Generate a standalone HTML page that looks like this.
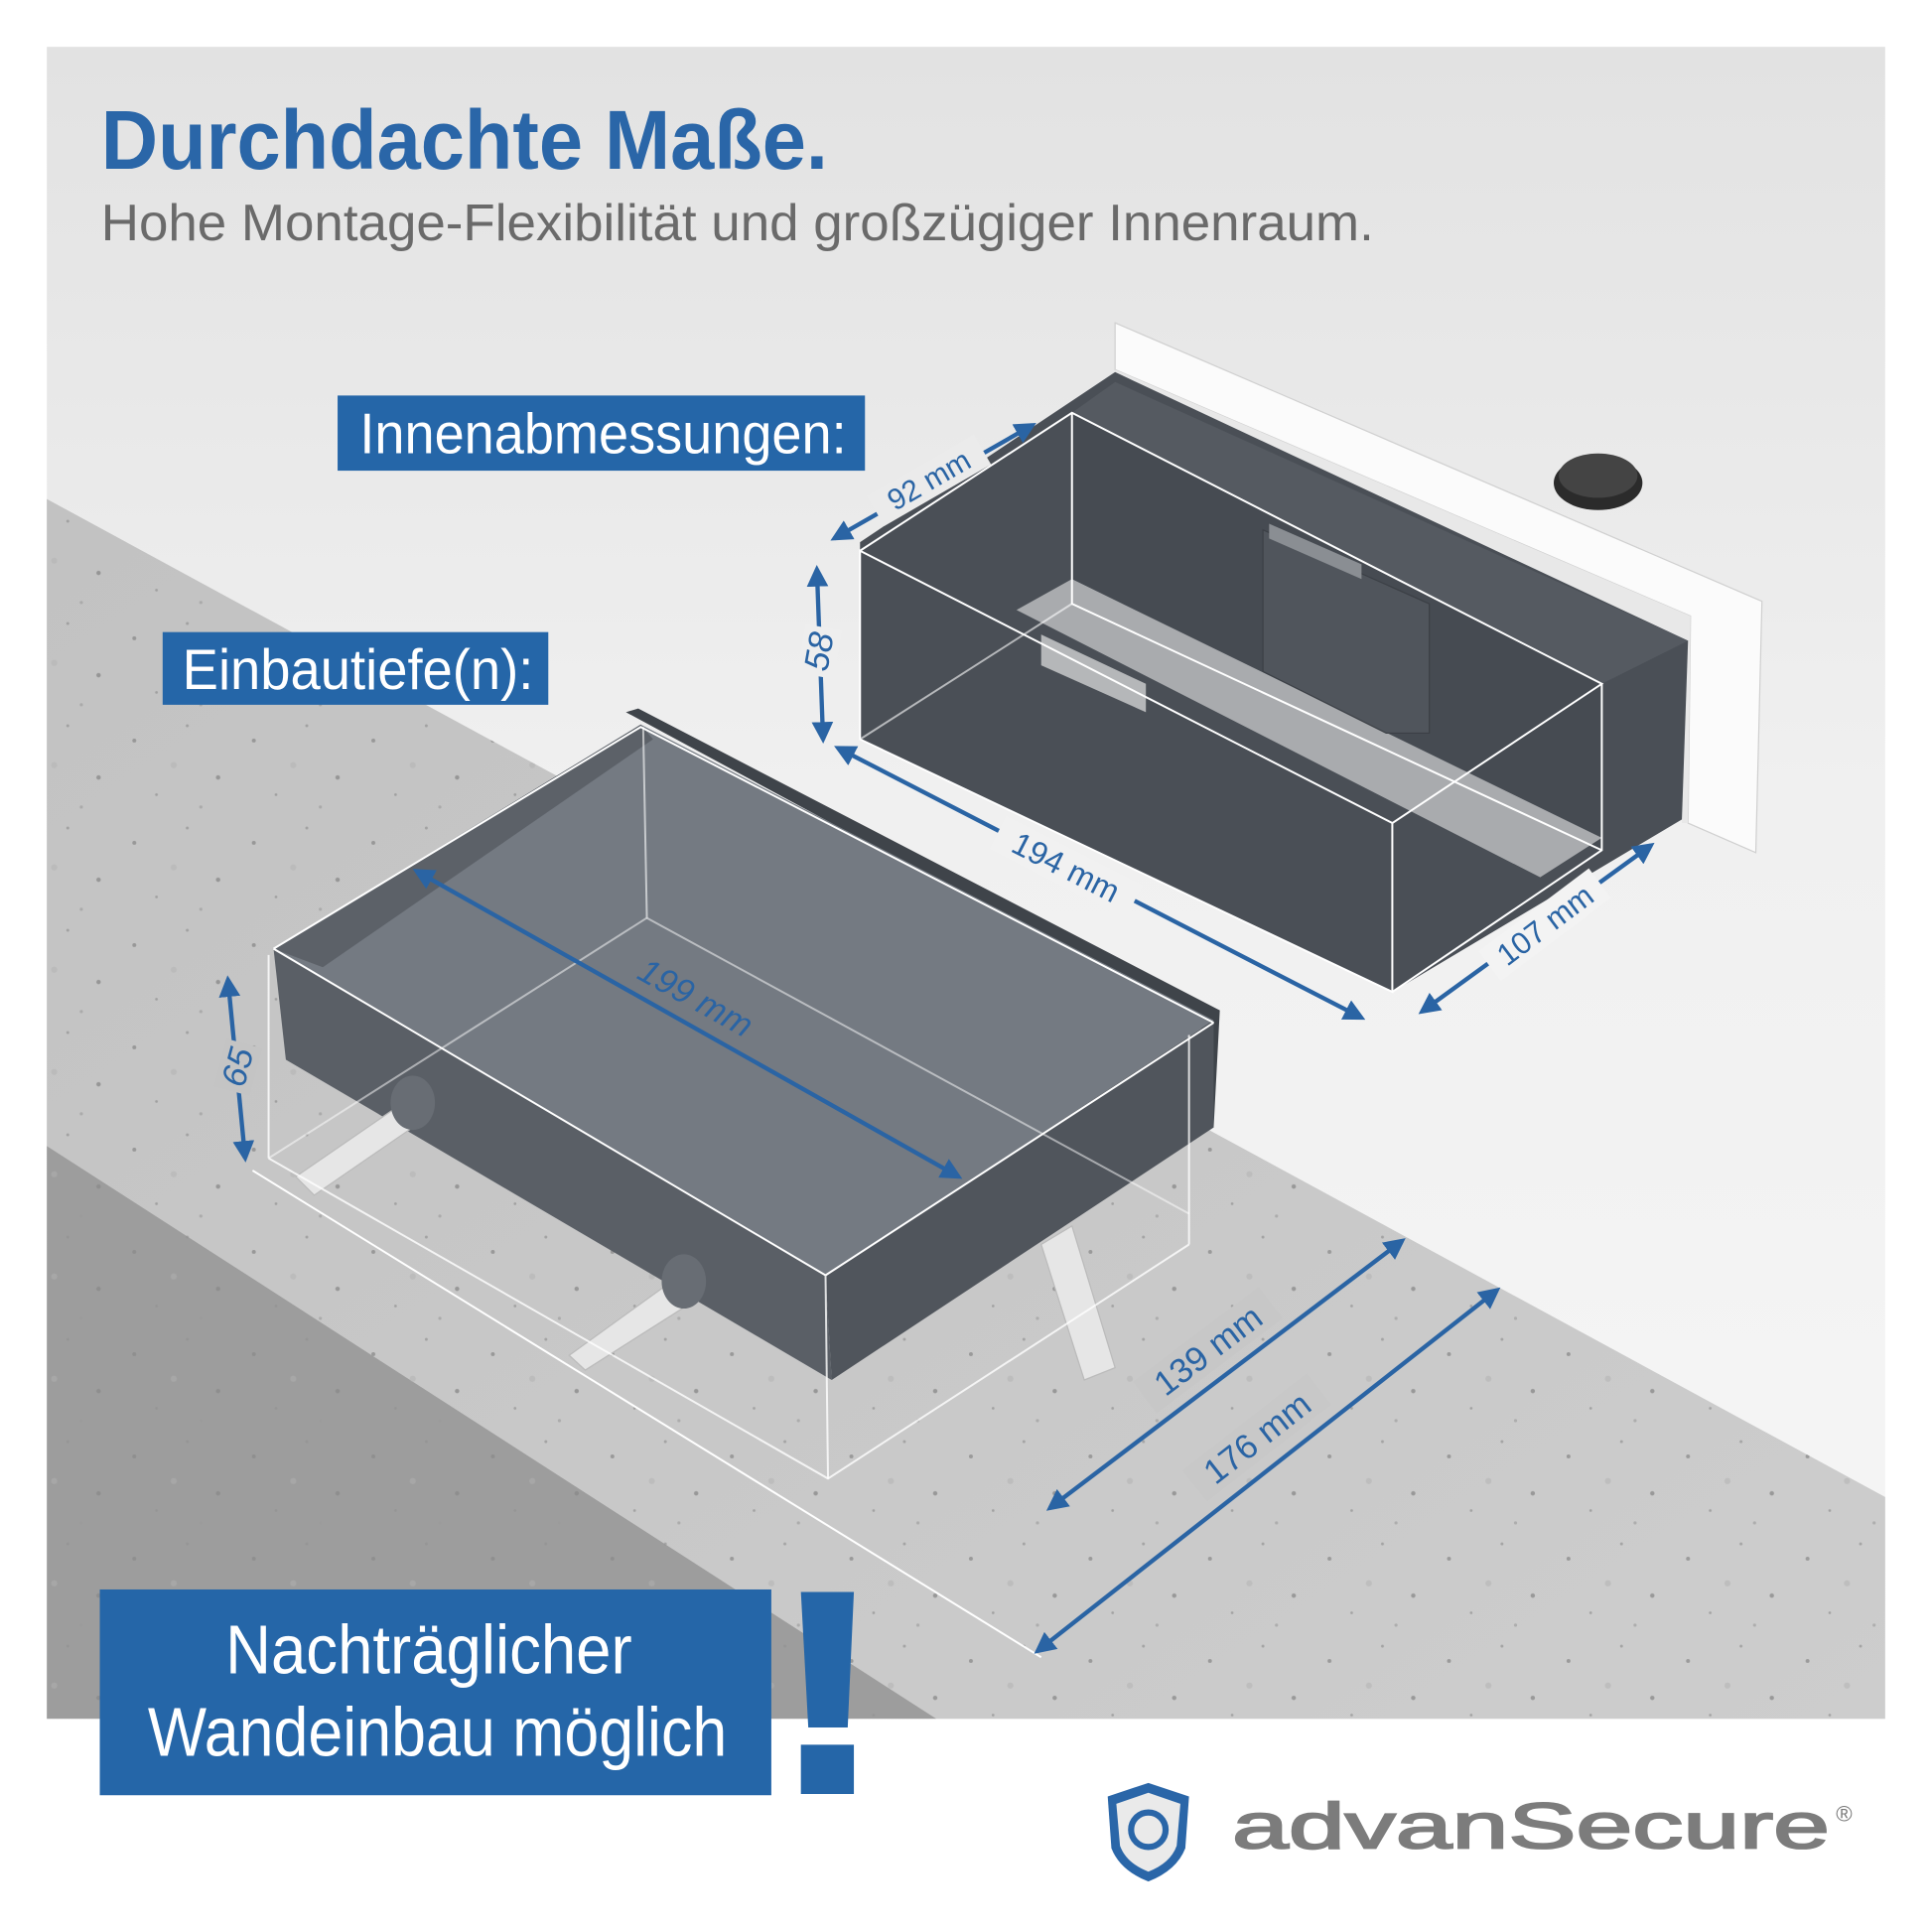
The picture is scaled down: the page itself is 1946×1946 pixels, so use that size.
<!DOCTYPE html>
<html><head><meta charset="utf-8"><style>
html,body{margin:0;padding:0;background:#fff}
svg{display:block}
text{font-family:"Liberation Sans Narrow","Liberation Sans",sans-serif}
</style></head><body>
<svg width="1946" height="1946" viewBox="0 0 1568 1568" xmlns="http://www.w3.org/2000/svg">
<defs>
<linearGradient id="bg" x1="0" y1="0" x2="0" y2="1">
<stop offset="0" stop-color="#e2e2e2"/><stop offset="0.45" stop-color="#f0f0f0"/><stop offset="1" stop-color="#f6f6f6"/>
</linearGradient>
<linearGradient id="conc" x1="0" y1="0" x2="1" y2="1">
<stop offset="0" stop-color="#c2c2c2"/><stop offset="1" stop-color="#cdcdcd"/>
</linearGradient>
<pattern id="spk" width="97" height="83" patternUnits="userSpaceOnUse">
<circle cx="12" cy="20" r="1.6" fill="#7a7a7a"/><circle cx="55" cy="8" r="1.2" fill="#8a8a8a"/><circle cx="80" cy="50" r="1.8" fill="#777"/><circle cx="30" cy="64" r="1.1" fill="#888"/><circle cx="66" cy="74" r="1.3" fill="#999"/><circle cx="44" cy="40" r="2.5" fill="#b5b5b5"/>
</pattern>
<marker id="ah" viewBox="0 0 10 10" refX="8" refY="5" markerWidth="5" markerHeight="5" orient="auto-start-reverse">
<path d="M0,0 L10,5 L0,10 z" fill="#2a64a4"/></marker>
</defs>
<rect x="38" y="38" width="1492" height="1357" fill="url(#bg)"/>
<!-- concrete -->
<polygon points="38,405 1530,1215 1530,1395 760,1395 38,930" fill="url(#conc)"/>
<polygon points="38,405 1530,1215 1530,1395 760,1395 38,930" fill="url(#spk)" opacity="0.6"/>
<polygon points="38,930 760,1395 38,1395" fill="#9d9d9d"/>
<polygon points="38,930 760,1395 38,1395" fill="url(#spk)" opacity="0.4"/>

<!-- right box: frame -->
<polygon points="905,262 1430,488 1425,692 1370,668 1372,500 905,300" fill="#fbfbfb" stroke="#d0d0d0"/>
<polygon points="905,300 1372,500 1370,668 1365,668 1365,520 905,320" fill="#e8e8e8"/>
<!-- knob -->
<ellipse cx="1297" cy="392" rx="36" ry="22" fill="#2b2b2b"/>
<ellipse cx="1297" cy="386" rx="32" ry="18" fill="#444"/>
<!-- box body -->
<polygon points="698,440 905,302 1370,520 1365,665 1130,805 698,600" fill="#4a4f56"/>
<polygon points="870,335 905,310 1370,520 1300,555" fill="#555a61"/>
<polygon points="870,335 1300,555 1300,690 870,480" fill="#464b52"/>
<polygon points="825,495 870,470 1300,680 1250,712" fill="#a9abae"/>
<polygon points="845,515 930,555 930,578 845,540" fill="#b5b7b9"/>
<polygon points="1025,430 1160,490 1160,595 1125,595 1025,545" fill="#50555c" stroke="#3c4046"/>
<polygon points="1030,425 1105,458 1105,470 1030,437" fill="#8a8e93"/>
<g stroke="#fff" stroke-width="1.6" fill="none">
<polygon points="698,447 1130,668 1130,805 698,600"/>
<polyline points="698,447 870,335 1300,555 1130,668"/>
<polyline points="1130,805 1300,690 1300,555"/>
<polyline points="870,335 870,490 1300,690"/>
<line x1="870" y1="490" x2="698" y2="600" stroke-opacity="0.6"/>
</g>

<!-- left box -->
<polygon points="508,578 518,575 990,820 985,915 975,915 975,830" fill="#3f444a"/>
<polygon points="222,770 520,588 985,828 670,1035" fill="#747a82"/>
<polygon points="222,770 520,588 530,600 262,785" fill="#5c6168"/>
<polygon points="222,770 670,1035 675,1120 232,860" fill="#5a5f66"/>
<polygon points="670,1035 985,828 985,915 675,1120" fill="#50555c"/>
<!-- anchors -->
<g fill="#e6e6e6" stroke="#bbb">
<polygon points="240,955 320,900 335,915 255,970"/>
<polygon points="462,1100 545,1040 560,1058 475,1112"/>
<polygon points="845,1010 870,995 905,1110 880,1120"/>
</g>
<ellipse cx="335" cy="895" rx="18" ry="22" fill="#686d74"/>
<ellipse cx="555" cy="1040" rx="18" ry="22" fill="#686d74"/>
<g stroke="#fff" stroke-width="1.6" fill="none">
<polyline points="222,770 520,590 985,830"/>
<line x1="222" y1="770" x2="670" y2="1035"/>
<line x1="670" y1="1035" x2="985" y2="830"/>
<line x1="522" y1="590" x2="525" y2="745" stroke-opacity="0.6"/>
<line x1="525" y1="745" x2="965" y2="985" stroke-opacity="0.5"/>
<line x1="525" y1="745" x2="218" y2="940" stroke-opacity="0.5"/>
<line x1="218" y1="775" x2="218" y2="940" stroke-opacity="0.8"/>
<line x1="670" y1="1035" x2="672" y2="1200" stroke-opacity="0.8"/>
<line x1="965" y1="840" x2="965" y2="1010" stroke-opacity="0.8"/>
<polyline points="218,940 672,1200 965,1010" stroke-opacity="0.8"/>
<line x1="205" y1="950" x2="845" y2="1345"/>
</g>

<!-- dimensions -->
<g stroke="#2a64a4" stroke-width="3.5" fill="none" marker-start="url(#ah)" marker-end="url(#ah)">
<line x1="338" y1="707" x2="778" y2="955"/>
<line x1="185" y1="795" x2="199" y2="940"/>
<line x1="852" y1="1224" x2="1138" y2="1007"/>
<line x1="842" y1="1340" x2="1215" y2="1047"/>
<line x1="677" y1="437" x2="838" y2="345"/>
<line x1="663" y1="462" x2="668" y2="600"/>
<line x1="680" y1="607" x2="1105" y2="826"/>
<line x1="1154" y1="821" x2="1340" y2="686"/>
</g>
<g fill="#2a64a4" font-size="28">
<g transform="translate(560,818) rotate(29)"><text x="0" y="0" text-anchor="middle" font-family="Liberation Sans,sans-serif" font-style="italic">199 mm</text></g>
<g transform="translate(200,868) rotate(-75)"><rect x="-20" y="-22" width="40" height="30" fill="#c4c4c4"/><text x="0" y="2" text-anchor="middle" font-family="Liberation Sans,sans-serif" font-style="italic">65</text></g>
<g transform="translate(985,1102) rotate(-37)"><rect x="-64" y="-24" width="128" height="32" fill="#c7c7c7"/><text x="0" y="2" text-anchor="middle" font-family="Liberation Sans,sans-serif">139 mm</text></g>
<g transform="translate(1025,1173) rotate(-38)"><rect x="-64" y="-24" width="128" height="32" fill="#c8c8c8"/><text x="0" y="2" text-anchor="middle" font-family="Liberation Sans,sans-serif">176 mm</text></g>
<g transform="translate(757,395) rotate(-30)"><rect x="-50" y="-20" width="100" height="28" fill="#ebebeb"/><text x="0" y="2" text-anchor="middle" font-family="Liberation Sans,sans-serif" font-size="24">92 mm</text></g>
<g transform="translate(672,530) rotate(-80)"><rect x="-20" y="-22" width="40" height="30" fill="#eeeeee"/><text x="0" y="2" text-anchor="middle" font-family="Liberation Sans,sans-serif" font-style="italic">58</text></g>
<g transform="translate(862,710) rotate(27)"><rect x="-62" y="-22" width="124" height="30" fill="#f1f1f1"/><text x="0" y="2" text-anchor="middle" font-family="Liberation Sans,sans-serif" font-size="26">194 mm</text></g>
<g transform="translate(1258,756) rotate(-37)"><rect x="-56" y="-22" width="112" height="30" fill="#f3f3f3"/><text x="0" y="2" text-anchor="middle" font-family="Liberation Sans,sans-serif" font-size="25">107 mm</text></g>
</g>

<!-- headings -->
<text x="82" y="137" font-size="68" font-weight="bold" fill="#2a66a8" textLength="590" lengthAdjust="spacingAndGlyphs">Durchdachte Maße.</text>
<text x="82" y="195" font-size="42" fill="#6a6a6a" textLength="1033" lengthAdjust="spacingAndGlyphs">Hohe Montage-Flexibilität und großzügiger Innenraum.</text>
<rect x="274" y="321" width="428" height="61" fill="#2566a8"/>
<text x="292" y="368" font-size="46" fill="#fff" textLength="395" lengthAdjust="spacingAndGlyphs">Innenabmessungen:</text>
<rect x="132" y="513" width="313" height="59" fill="#2566a8"/>
<text x="148" y="559" font-size="46" fill="#fff" textLength="285" lengthAdjust="spacingAndGlyphs">Einbautiefe(n):</text>
<rect x="81" y="1290" width="545" height="167" fill="#2566a8"/>
<text x="348" y="1358" font-size="56" fill="#fff" text-anchor="middle" textLength="330" lengthAdjust="spacingAndGlyphs">Nachträglicher</text>
<text x="355" y="1425" font-size="56" fill="#fff" text-anchor="middle" textLength="470" lengthAdjust="spacingAndGlyphs">Wandeinbau möglich</text>
<polygon points="650,1292 693,1292 688,1402 656,1402" fill="#2566a8"/>
<rect x="650" y="1416" width="43" height="40" fill="#2566a8"/>

<!-- logo -->
<path d="M932,1447 L965,1458 L962,1500 Q955,1518 932,1527 Q909,1518 902,1500 L899,1458 Z" fill="#2a66a8"/>
<path d="M932,1455 L958,1464 L955,1498 Q950,1512 932,1519 Q914,1512 909,1498 L906,1464 Z" fill="#eaeaea"/>
<circle cx="932" cy="1485" r="14" fill="none" stroke="#2a66a8" stroke-width="5"/>
<text x="1000" y="1500" font-family="Liberation Sans,sans-serif" font-size="52" fill="#7c7c7c" stroke="#7c7c7c" stroke-width="1.5" textLength="485" lengthAdjust="spacingAndGlyphs">advanSecure</text>
<text x="1490" y="1478" font-family="Liberation Sans,sans-serif" font-size="18" fill="#787878">®</text>
</svg>
</body></html>
